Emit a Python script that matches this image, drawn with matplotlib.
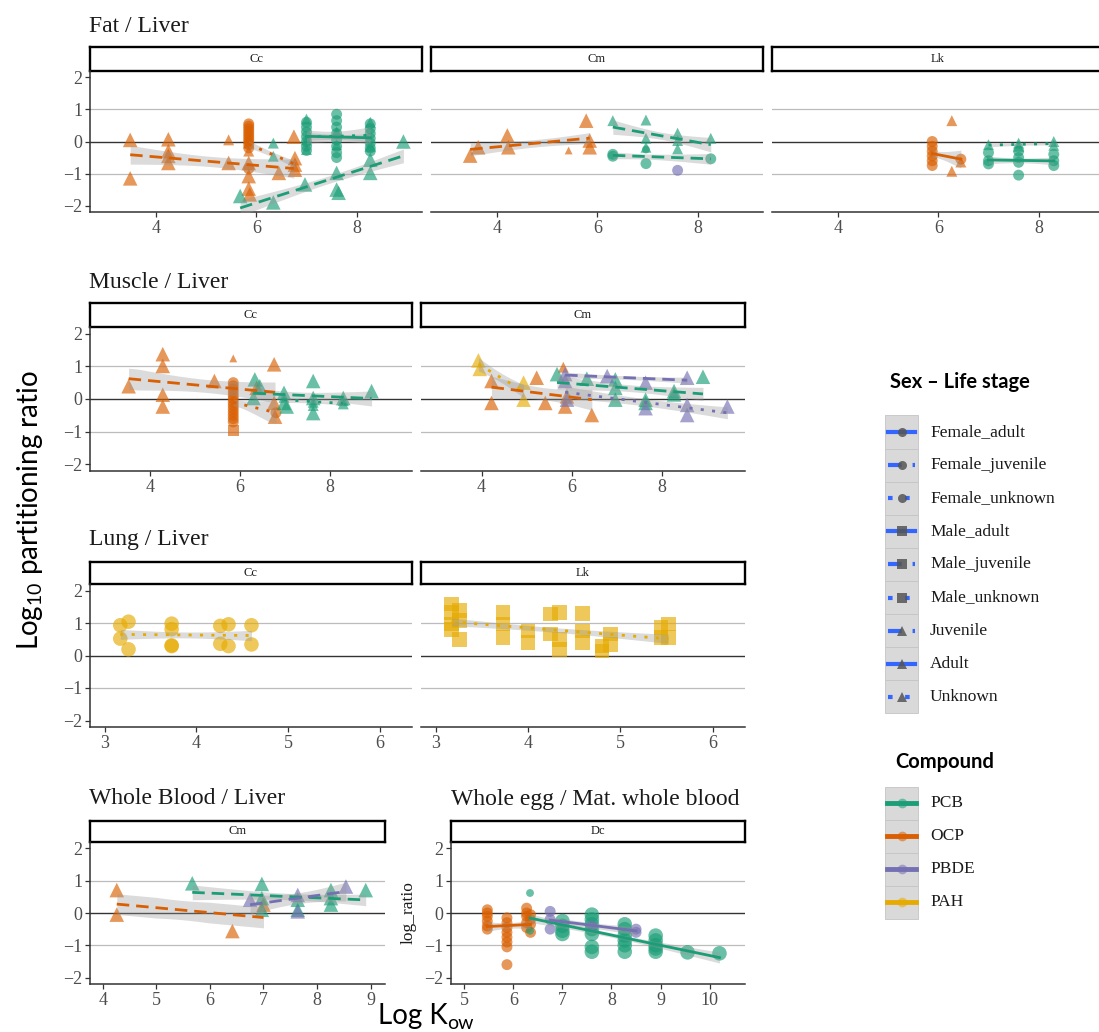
import numpy as np
import matplotlib
matplotlib.use('Agg')
import matplotlib.pyplot as plt
from matplotlib.patches import Rectangle
from matplotlib.lines import Line2D

W, H = 1099, 1032
plt.rcParams['font.family'] = ['Liberation Serif', 'DejaVu Serif']
plt.rcParams['mathtext.fontset'] = 'custom'
plt.rcParams['mathtext.rm'] = 'Lato'
plt.rcParams['mathtext.it'] = 'Lato:italic'
plt.rcParams['mathtext.bf'] = 'Lato:bold'

# ---------------- data ----------------
COMPOUNDS = ['PCB', 'OCP', 'PBDE', 'PAH']
COMP_COLORS = ['#1b9e77', '#d95f02', '#7570b3', '#e6ab02']
STAGE_CODES = ['Fa', 'Fj', 'Fu', 'Ma', 'Mj', 'Mu', 'J', 'A', 'U']
STAGE_LABELS = ['Female_adult', 'Female_juvenile', 'Female_unknown', 'Male_adult',
                'Male_juvenile', 'Male_unknown', 'Juvenile', 'Adult', 'Unknown']

# (compound, sex-life stage code, log Kow, log ratio, size level)
FAT_CC = [
    ('OCP', 'J', 3.49, 0.05, 3), ('OCP', 'J', 3.49, -1.15, 3), ('OCP', 'J', 4.25, 0.07, 3),
    ('OCP', 'J', 4.25, -0.30, 3), ('OCP', 'J', 4.25, -0.45, 3), ('OCP', 'J', 4.25, -0.67, 3),
    ('OCP', 'J', 5.45, 0.05, 2), ('OCP', 'J', 5.45, -0.67, 3), ('OCP', 'J', 5.85, -0.67, 3),
    ('OCP', 'J', 5.85, -1.08, 3), ('OCP', 'J', 5.85, -1.47, 3), ('OCP', 'J', 5.87, -1.65, 3),
    ('OCP', 'J', 6.45, -0.98, 3), ('OCP', 'J', 6.75, 0.15, 3),
    ('OCP', 'U', 5.85, -0.05, 2), ('OCP', 'U', 5.85, -0.30, 2), ('OCP', 'U', 5.85, 0.10, 2),
    ('OCP', 'U', 6.77, -0.52, 3), ('OCP', 'U', 6.77, -0.72, 3), ('OCP', 'U', 6.77, -0.88, 3),
    ('OCP', 'Fu', 5.85, 0.55, 2), ('OCP', 'Fu', 5.85, 0.48, 2), ('OCP', 'Fu', 5.85, 0.40, 2),
    ('OCP', 'Fu', 5.85, 0.32, 2), ('OCP', 'Fu', 5.85, 0.24, 2), ('OCP', 'Fu', 5.85, 0.16, 2),
    ('OCP', 'Fu', 5.85, 0.08, 2), ('OCP', 'Fu', 5.85, 0.00, 2), ('OCP', 'Fu', 5.85, -0.10, 2),
    ('OCP', 'Fu', 5.85, -0.20, 2), ('OCP', 'Fu', 5.85, -0.85, 2),
    ('PCB', 'J', 5.68, -1.70, 3), ('PCB', 'J', 6.34, -1.90, 3), ('PCB', 'J', 6.97, -1.34, 3),
    ('PCB', 'J', 7.60, -0.98, 3), ('PCB', 'J', 7.60, -1.50, 3), ('PCB', 'J', 7.64, -1.60, 3),
    ('PCB', 'J', 8.27, -0.57, 3), ('PCB', 'J', 8.27, -0.98, 3), ('PCB', 'J', 8.93, 0.00, 3),
    ('PCB', 'A', 6.34, -0.05, 2), ('PCB', 'A', 6.34, -0.46, 2),
    ('PCB', 'Fa', 7.00, 0.60, 2), ('PCB', 'Fa', 7.00, 0.45, 2), ('PCB', 'Fa', 7.00, 0.30, 2),
    ('PCB', 'Fa', 7.00, 0.15, 2), ('PCB', 'Fa', 7.00, 0.00, 2), ('PCB', 'Fa', 7.00, -0.15, 2),
    ('PCB', 'Fa', 7.00, -0.28, 2),
    ('PCB', 'Fa', 7.60, 0.85, 2), ('PCB', 'Fa', 7.60, 0.65, 2), ('PCB', 'Fa', 7.60, 0.45, 2),
    ('PCB', 'Fa', 7.60, 0.25, 2), ('PCB', 'Fa', 7.60, 0.05, 2), ('PCB', 'Fa', 7.60, -0.15, 2),
    ('PCB', 'Fa', 7.60, -0.35, 2), ('PCB', 'Fa', 7.60, -0.50, 2),
    ('PCB', 'Fa', 8.27, 0.55, 2), ('PCB', 'Fa', 8.27, 0.40, 2), ('PCB', 'Fa', 8.27, 0.25, 2),
    ('PCB', 'Fa', 8.27, 0.10, 2), ('PCB', 'Fa', 8.27, -0.05, 2), ('PCB', 'Fa', 8.27, -0.20, 2),
    ('PCB', 'Fa', 8.27, -0.30, 2),
    ('PCB', 'U', 7.00, 0.70, 2), ('PCB', 'U', 7.00, 0.05, 2), ('PCB', 'U', 7.00, -0.25, 2),
    ('PCB', 'U', 7.60, 0.30, 2), ('PCB', 'U', 7.60, -0.10, 2),
    ('PCB', 'U', 8.27, 0.60, 2), ('PCB', 'U', 8.27, -0.15, 2),
]

FAT_CM = [
    ('OCP', 'J', 3.47, -0.44, 3), ('OCP', 'J', 3.63, -0.18, 3), ('OCP', 'J', 4.21, 0.19, 3),
    ('OCP', 'J', 4.23, -0.18, 3), ('OCP', 'J', 5.43, -0.28, 1), ('OCP', 'J', 5.78, 0.65, 3),
    ('OCP', 'J', 5.85, 0.03, 3), ('OCP', 'J', 5.85, -0.18, 3),
    ('PCB', 'J', 6.31, 0.65, 2), ('PCB', 'J', 6.97, 0.67, 2), ('PCB', 'J', 6.97, 0.10, 2),
    ('PCB', 'J', 6.97, -0.18, 2), ('PCB', 'J', 7.60, 0.26, 2), ('PCB', 'J', 7.60, 0.03, 2),
    ('PCB', 'J', 7.60, -0.23, 2), ('PCB', 'J', 8.26, 0.10, 2),
    ('PCB', 'Fj', 6.31, -0.40, 2), ('PCB', 'Fj', 6.31, -0.46, 2), ('PCB', 'Fj', 6.97, -0.69, 2),
    ('PCB', 'Fj', 6.97, -0.25, 1), ('PCB', 'Fj', 8.26, -0.54, 2),
    ('PBDE', 'Fj', 7.60, -0.90, 2),
]

FAT_LK = [
    ('OCP', 'Fa', 5.88, 0.00, 2), ('OCP', 'Fa', 5.88, -0.15, 2), ('OCP', 'Fa', 5.88, -0.30, 2),
    ('OCP', 'Fa', 5.88, -0.45, 2), ('OCP', 'Fa', 5.88, -0.60, 2), ('OCP', 'Fa', 5.88, -0.75, 2),
    ('OCP', 'Fa', 6.45, -0.55, 2),
    ('OCP', 'A', 6.27, 0.65, 2), ('OCP', 'A', 6.27, -0.93, 2), ('OCP', 'J', 6.45, -0.64, 2),
    ('PCB', 'Fa', 7.00, -0.35, 2), ('PCB', 'Fa', 7.00, -0.60, 2), ('PCB', 'Fa', 7.00, -0.70, 2),
    ('PCB', 'Fa', 7.60, -0.30, 2), ('PCB', 'Fa', 7.60, -0.50, 2), ('PCB', 'Fa', 7.60, -0.65, 2),
    ('PCB', 'Fa', 7.60, -1.05, 2),
    ('PCB', 'Fa', 8.30, -0.40, 2), ('PCB', 'Fa', 8.30, -0.60, 2), ('PCB', 'Fa', 8.30, -0.75, 2),
    ('PCB', 'U', 7.00, -0.10, 2), ('PCB', 'U', 7.60, -0.05, 2), ('PCB', 'U', 7.60, -0.15, 2),
    ('PCB', 'U', 8.30, 0.00, 2), ('PCB', 'U', 8.30, -0.12, 2),
]

MUS_CC = [
    ('OCP', 'J', 3.52, 0.39, 3), ('OCP', 'J', 4.28, 1.37, 3), ('OCP', 'J', 4.28, 1.01, 3),
    ('OCP', 'J', 4.28, 0.13, 3), ('OCP', 'J', 4.28, -0.23, 3), ('OCP', 'J', 5.43, 0.55, 3),
    ('OCP', 'J', 6.37, 0.34, 3), ('OCP', 'J', 6.76, 1.06, 3), ('OCP', 'J', 6.76, -0.12, 3),
    ('OCP', 'J', 6.78, -0.54, 3),
    ('OCP', 'A', 5.85, 1.24, 1),
    ('OCP', 'Fu', 5.85, 0.50, 2), ('OCP', 'Fu', 5.85, 0.40, 2), ('OCP', 'Fu', 5.85, 0.30, 2),
    ('OCP', 'Fu', 5.85, 0.20, 2), ('OCP', 'Fu', 5.85, 0.10, 2), ('OCP', 'Fu', 5.85, 0.00, 2),
    ('OCP', 'Fu', 5.85, -0.10, 2), ('OCP', 'Fu', 5.85, -0.20, 2), ('OCP', 'Fu', 5.85, -0.30, 2),
    ('OCP', 'Fu', 5.85, -0.40, 2), ('OCP', 'Fu', 5.85, -0.50, 2), ('OCP', 'Fu', 5.85, -0.60, 2),
    ('OCP', 'Fu', 5.85, -0.70, 2), ('OCP', 'Fu', 6.80, -0.42, 2),
    ('OCP', 'Mu', 5.85, -0.95, 2),
    ('PCB', 'J', 6.33, 0.60, 3), ('PCB', 'J', 6.30, 0.03, 3), ('PCB', 'J', 6.44, 0.39, 3),
    ('PCB', 'J', 6.98, 0.19, 3), ('PCB', 'J', 6.98, -0.12, 3), ('PCB', 'J', 7.04, -0.23, 3),
    ('PCB', 'J', 7.63, 0.55, 3), ('PCB', 'J', 7.63, 0.03, 3), ('PCB', 'J', 7.63, -0.43, 3),
    ('PCB', 'J', 8.30, 0.03, 3), ('PCB', 'J', 8.93, 0.24, 3),
    ('PCB', 'U', 6.98, 0.05, 2), ('PCB', 'U', 7.63, -0.10, 2), ('PCB', 'U', 7.63, -0.20, 2),
    ('PCB', 'U', 8.30, -0.15, 2), ('PCB', 'U', 8.30, -0.05, 2),
]

MUS_CM = [
    ('PAH', 'U', 3.93, 1.18, 3), ('PAH', 'U', 3.96, 0.92, 3), ('PAH', 'U', 4.93, 0.50, 3),
    ('PAH', 'U', 4.93, -0.02, 3),
    ('OCP', 'J', 4.22, 0.55, 3), ('OCP', 'J', 4.22, -0.12, 3), ('OCP', 'J', 5.22, 0.65, 3),
    ('OCP', 'J', 5.41, -0.12, 3), ('OCP', 'J', 5.81, 0.97, 2), ('OCP', 'J', 5.85, -0.23, 3),
    ('OCP', 'J', 5.89, 0.08, 3), ('OCP', 'J', 6.44, -0.49, 3),
    ('PCB', 'J', 5.67, 0.76, 3), ('PCB', 'J', 6.33, 0.62, 3), ('PCB', 'J', 6.96, 0.60, 3),
    ('PCB', 'J', 6.96, 0.34, 3), ('PCB', 'J', 6.96, -0.02, 3), ('PCB', 'J', 7.63, -0.02, 3),
    ('PCB', 'J', 7.63, -0.12, 3), ('PCB', 'J', 8.26, 0.24, 3), ('PCB', 'J', 8.26, 0.14, 3),
    ('PCB', 'J', 8.90, 0.68, 3),
    ('PBDE', 'J', 5.85, 0.76, 3), ('PBDE', 'J', 6.78, 0.70, 3), ('PBDE', 'J', 7.63, 0.50, 3),
    ('PBDE', 'J', 8.55, 0.65, 3),
    ('PBDE', 'U', 5.85, 0.55, 3), ('PBDE', 'U', 5.89, -0.02, 3), ('PBDE', 'U', 7.63, -0.28, 3),
    ('PBDE', 'U', 8.55, -0.18, 3), ('PBDE', 'U', 8.55, -0.49, 3), ('PBDE', 'U', 9.44, -0.23, 3),
]

LUNG_CC = [
    ('PAH', 'Fu', 3.17, 0.93, 3), ('PAH', 'Fu', 3.26, 1.04, 3), ('PAH', 'Fu', 3.17, 0.52, 3),
    ('PAH', 'Fu', 3.26, 0.19, 3), ('PAH', 'Fu', 3.73, 0.98, 3), ('PAH', 'Fu', 3.73, 0.81, 3),
    ('PAH', 'Fu', 3.73, 0.29, 3), ('PAH', 'Fu', 3.73, 0.31, 3), ('PAH', 'Fu', 4.26, 0.91, 3),
    ('PAH', 'Fu', 4.35, 0.96, 3), ('PAH', 'Fu', 4.26, 0.36, 3), ('PAH', 'Fu', 4.35, 0.29, 3),
    ('PAH', 'Fu', 4.60, 0.93, 3), ('PAH', 'Fu', 4.60, 0.34, 3),
]

LUNG_LK = [
    ('PAH', 'Mu', 3.17, 1.59, 3), ('PAH', 'Mu', 3.17, 1.33, 3), ('PAH', 'Mu', 3.17, 0.97, 3),
    ('PAH', 'Mu', 3.17, 0.80, 3), ('PAH', 'Mu', 3.26, 1.38, 3), ('PAH', 'Mu', 3.26, 1.07, 3),
    ('PAH', 'Mu', 3.26, 0.50, 3), ('PAH', 'Mu', 3.73, 1.33, 3), ('PAH', 'Mu', 3.73, 0.97, 3),
    ('PAH', 'Mu', 3.73, 0.55, 3), ('PAH', 'Mu', 4.00, 0.76, 3), ('PAH', 'Mu', 4.00, 0.40, 3),
    ('PAH', 'Mu', 4.24, 1.28, 3), ('PAH', 'Mu', 4.24, 0.66, 3), ('PAH', 'Mu', 4.34, 1.33, 3),
    ('PAH', 'Mu', 4.34, 0.50, 3), ('PAH', 'Mu', 4.34, 0.19, 3), ('PAH', 'Mu', 4.59, 1.30, 3),
    ('PAH', 'Mu', 4.59, 0.76, 3), ('PAH', 'Mu', 4.59, 0.40, 3), ('PAH', 'Mu', 4.80, 0.29, 3),
    ('PAH', 'Mu', 4.80, 0.14, 3), ('PAH', 'Mu', 4.89, 0.66, 3), ('PAH', 'Mu', 4.89, 0.34, 3),
    ('PAH', 'Mu', 5.44, 0.86, 3), ('PAH', 'Mu', 5.44, 0.55, 3), ('PAH', 'Mu', 5.52, 0.97, 3),
    ('PAH', 'Mu', 5.52, 0.55, 3),
]

WB_CM = [
    ('OCP', 'J', 4.26, 0.71, 3), ('OCP', 'J', 4.26, -0.05, 3), ('OCP', 'J', 6.42, -0.56, 3),
    ('OCP', 'J', 7.00, 0.26, 3),
    ('PCB', 'J', 5.67, 0.92, 3), ('PCB', 'J', 6.97, 0.90, 3), ('PCB', 'J', 6.97, 0.46, 3),
    ('PCB', 'J', 6.97, 0.10, 3), ('PCB', 'J', 7.64, 0.41, 3), ('PCB', 'J', 7.64, 0.10, 3),
    ('PCB', 'J', 8.26, 0.71, 3), ('PCB', 'J', 8.26, 0.46, 3), ('PCB', 'J', 8.26, 0.26, 3),
    ('PCB', 'J', 8.91, 0.71, 3),
    ('PBDE', 'J', 6.75, 0.41, 3), ('PBDE', 'J', 7.64, 0.56, 3), ('PBDE', 'J', 7.64, 0.05, 3),
    ('PBDE', 'J', 8.54, 0.82, 3),
]

EGG_DC = [
    ('OCP', 'Fa', 5.47, 0.10, 2), ('OCP', 'Fa', 5.47, 0.00, 2), ('OCP', 'Fa', 5.47, -0.10, 2),
    ('OCP', 'Fa', 5.47, -0.25, 2), ('OCP', 'Fa', 5.47, -0.40, 2), ('OCP', 'Fa', 5.47, -0.50, 2),
    ('OCP', 'Fa', 5.87, -0.15, 2), ('OCP', 'Fa', 5.87, -0.30, 2), ('OCP', 'Fa', 5.87, -0.45, 2),
    ('OCP', 'Fa', 5.87, -0.60, 2), ('OCP', 'Fa', 5.87, -0.75, 2), ('OCP', 'Fa', 5.87, -0.90, 2),
    ('OCP', 'Fa', 5.87, -1.05, 2), ('OCP', 'Fa', 5.87, -1.60, 2),
    ('OCP', 'Fa', 6.27, 0.15, 2), ('OCP', 'Fa', 6.27, 0.00, 2), ('OCP', 'Fa', 6.27, -0.10, 2),
    ('OCP', 'Fa', 6.27, -0.30, 2), ('OCP', 'Fa', 6.27, -0.45, 2),
    ('OCP', 'Fa', 6.35, -0.05, 2), ('OCP', 'Fa', 6.35, -0.20, 2), ('OCP', 'Fa', 6.35, -0.35, 2),
    ('OCP', 'Fa', 6.35, -0.60, 2),
    ('PCB', 'Fa', 6.34, 0.62, 1), ('PCB', 'Fa', 6.34, -0.55, 1),
    ('PCB', 'Fa', 7.00, -0.25, 3), ('PCB', 'Fa', 7.00, -0.40, 3), ('PCB', 'Fa', 7.00, -0.55, 3),
    ('PCB', 'Fa', 7.00, -0.65, 3),
    ('PCB', 'Fa', 7.60, -0.05, 3), ('PCB', 'Fa', 7.60, -0.20, 3), ('PCB', 'Fa', 7.60, -0.35, 3),
    ('PCB', 'Fa', 7.60, -0.50, 3), ('PCB', 'Fa', 7.60, -0.65, 3), ('PCB', 'Fa', 7.60, -1.05, 3),
    ('PCB', 'Fa', 7.60, -1.20, 3),
    ('PCB', 'Fa', 8.27, -0.35, 3), ('PCB', 'Fa', 8.27, -0.50, 3), ('PCB', 'Fa', 8.27, -0.70, 3),
    ('PCB', 'Fa', 8.27, -0.85, 3), ('PCB', 'Fa', 8.27, -1.00, 3), ('PCB', 'Fa', 8.27, -1.20, 3),
    ('PCB', 'Fa', 8.90, -0.70, 3), ('PCB', 'Fa', 8.90, -0.85, 3), ('PCB', 'Fa', 8.90, -1.00, 3),
    ('PCB', 'Fa', 8.90, -1.10, 3), ('PCB', 'Fa', 8.90, -1.20, 3),
    ('PCB', 'Fa', 9.55, -1.22, 3), ('PCB', 'Fa', 10.20, -1.25, 3),
    ('PBDE', 'Fa', 6.75, 0.05, 2), ('PBDE', 'Fa', 6.75, -0.20, 2), ('PBDE', 'Fa', 6.75, -0.50, 2),
    ('PBDE', 'Fa', 7.60, -0.40, 2), ('PBDE', 'Fa', 8.50, -0.50, 2), ('PBDE', 'Fa', 8.50, -0.60, 2),
]

Y_TICKS = [-2, -1, 0, 1, 2]

# ---------------- styling helpers ----------------
COLOR = dict(zip(COMPOUNDS, COMP_COLORS))
SIZE = {1: 32, 2: 62, 3: 110}


def marker_of(code):
    if code.startswith('F'):
        return 'o'
    if code.startswith('M'):
        return 's'
    return '^'


def dash_of(code):
    st = code[-1].lower()
    if st == 'a':
        return '-'
    if st == 'j':
        return (0, (4.5, 2.5))
    return (0, (1.1, 3.0))


fig = plt.figure(figsize=(W / 100, H / 100), dpi=100)
fig.patch.set_facecolor('white')


def box(x0, y0, x1, y1):
    return [x0 / W, 1 - y1 / H, (x1 - x0) / W, (y1 - y0) / H]


def strip(x0, y0, x1, y1, label):
    s = fig.add_axes(box(x0, y0, x1, y1))
    s.set_xticks([]); s.set_yticks([])
    for sp in s.spines.values():
        sp.set_linewidth(1.7); sp.set_color('black')
    s.text(0.5, 0.5, label, ha='center', va='center', fontsize=9, color='#1a1a1a',
           transform=s.transAxes)


def draw_data(ax, rows):
    groups = {}
    for comp, code, x, y, sz in rows:
        groups.setdefault((comp, code), []).append((x, y, sz))
    for (comp, code), pts in groups.items():
        xs = np.array([p[0] for p in pts]); ys = np.array([p[1] for p in pts])
        ss = [SIZE[p[2]] for p in pts]
        ax.scatter(xs, ys, s=ss, marker=marker_of(code), color=COLOR[comp], alpha=0.65,
                   edgecolors='none', zorder=3)
    for (comp, code), pts in groups.items():
        xs = np.array([p[0] for p in pts]); ys = np.array([p[1] for p in pts])
        if len(np.unique(xs)) < 2 or len(xs) < 3:
            continue
        b, a = np.polyfit(xs, ys, 1)
        n = len(xs)
        res = ys - (a + b * xs)
        s = np.sqrt(np.sum(res ** 2) / (n - 2))
        sxx = np.sum((xs - xs.mean()) ** 2)
        xg = np.linspace(xs.min(), xs.max(), 60)
        yg = a + b * xg
        se = s * np.sqrt(1 / n + (xg - xs.mean()) ** 2 / sxx)
        hw = np.minimum(se, 0.32)
        ax.fill_between(xg, yg - hw, yg + hw, color='#999999', alpha=0.35,
                        lw=0, zorder=4)
        ax.plot(xg, yg, color=COLOR[comp], lw=2.0, linestyle=dash_of(code), zorder=5)


def panel(x0, y0, x1, y1, xlim, xticks, label, rows, first=True, sh=24):
    strip(x0, y0 - sh, x1, y0, label)
    ax = fig.add_axes(box(x0, y0, x1, y1))
    ax.set_facecolor('none')
    ax.set_xlim(*xlim); ax.set_ylim(-2.2, 2.2)
    ax.spines['top'].set_visible(False); ax.spines['right'].set_visible(False)
    ax.spines['bottom'].set_color('#333333'); ax.spines['bottom'].set_linewidth(1.1)
    ax.spines['left'].set_color('#333333'); ax.spines['left'].set_linewidth(1.1)
    ax.axhline(1, color='#bcbcbc', lw=0.9, zorder=1)
    ax.axhline(-1, color='#bcbcbc', lw=0.9, zorder=1)
    ax.axhline(0, color='#333333', lw=1.0, zorder=1)
    ax.set_xticks(xticks)
    ax.set_xticklabels([str(v) for v in xticks])
    ax.set_yticks(Y_TICKS)
    ax.tick_params(axis='both', labelsize=13, labelcolor='#4d4d4d', color='#333333',
                   length=3.5, width=0.9, pad=2)
    if not first:
        ax.spines['left'].set_visible(False)
        ax.tick_params(axis='y', length=0, labelleft=False)
    draw_data(ax, rows)
    return ax


# Row 1: Fat / Liver
X1 = (2.69, 9.30)
panel(90, 71, 422, 212, X1, [4, 6, 8], 'Cc', FAT_CC, True)
panel(431, 71, 763, 212, X1, [4, 6, 8], 'Cm', FAT_CM, False)
panel(772, 71, 1104, 212, X1, [4, 6, 8], 'Lk', FAT_LK, False)

# Row 2: Muscle / Liver
X2 = (2.66, 9.83)
panel(90, 327, 412, 471, X2, [4, 6, 8], 'Cc', MUS_CC, True)
panel(421, 327, 745, 471, X2, [4, 6, 8], 'Cm', MUS_CM, False)

# Row 3: Lung / Liver
X3 = (2.84, 6.35)
panel(90, 584, 412, 727, X3, [3, 4, 5, 6], 'Cc', LUNG_CC, True, 22)
panel(421, 584, 745, 727, X3, [3, 4, 5, 6], 'Lk', LUNG_LK, False, 22)

# Row 4
panel(90, 842, 385, 984, (3.76, 9.27), [4, 5, 6, 7, 8, 9], 'Cm', WB_CM, True, 21)
panel(451, 842, 745, 984, (4.73, 10.72), [5, 6, 7, 8, 9, 10], 'Dc', EGG_DC, True, 21)

# ---------------- overlay for titles and legends ----------------
ov = fig.add_axes([0, 0, 1, 1])
ov.set_xlim(0, W); ov.set_ylim(H, 0); ov.axis('off'); ov.set_facecolor('none')

TITLE_KW = dict(fontsize=17, color='#1a1a1a', ha='left', va='center')
ov.text(89, 27, 'Fat / Liver', **TITLE_KW)
ov.text(89, 283, 'Muscle / Liver', **TITLE_KW)
ov.text(89, 540, 'Lung / Liver', **TITLE_KW)
ov.text(89, 799, 'Whole Blood / Liver', **TITLE_KW)
ov.text(451, 799, 'Whole egg / Mat. whole blood', **TITLE_KW)
ov.text(409, 913, 'log_ratio', rotation=90, fontsize=12.5, color='#1a1a1a',
        ha='center', va='center')

ov.text(30, 510, 'Log$_{\\mathrm{10}}$ partitioning ratio', rotation=90, ha='center',
        va='center', fontsize=20, family='Lato', color='black')
ov.text(378, 1024, 'Log K', ha='left', va='baseline', fontsize=20,
        family='Lato', color='black')
ov.text(447, 1029, 'ow', ha='left', va='baseline', fontsize=14,
        family='Lato', color='black')

# Sex - life stage legend
ov.text(890, 382, 'Sex – Life stage', ha='left', va='center', fontsize=14.5,
        family='Lato', fontweight='bold', color='black')
step = 33.1
for i, (code, lab) in enumerate(zip(STAGE_CODES, STAGE_LABELS)):
    cy = 432 + i * step
    ov.add_patch(Rectangle((885, cy - step / 2), 33, step, facecolor='#d9d9d9',
                           edgecolor='#c4c4c4', lw=0.6, zorder=2))
    ov.add_line(Line2D([888, 915], [cy, cy], color='#3366ff', lw=3.0,
                       linestyle=dash_of(code) if code[-1].lower() != 'j' else (0, (3.3, 2.6)),
                       zorder=3))
    ov.add_line(Line2D([901.5], [cy], marker=marker_of(code), markersize=6.5,
                       color='#555555', alpha=0.85, markeredgewidth=0, zorder=4))
    ov.text(930, cy, lab, ha='left', va='center', fontsize=12.5, color='#1a1a1a')

# Compound legend
ov.text(895, 762, 'Compound', ha='left', va='center', fontsize=14.5, family='Lato',
        fontweight='bold', color='black')
for i, (comp, col) in enumerate(zip(COMPOUNDS, COMP_COLORS)):
    cy = 803 + i * 33
    ov.add_patch(Rectangle((885, cy - 16.5), 33, 33, facecolor='#d9d9d9',
                           edgecolor='#c4c4c4', lw=0.6, zorder=2))
    ov.add_line(Line2D([887, 916], [cy, cy], color=col, lw=3.5, zorder=3))
    ov.add_line(Line2D([901.5], [cy], marker='o', markersize=7, color=col, alpha=0.55,
                       markeredgewidth=0, zorder=4))
    ov.text(930, cy, comp, ha='left', va='center', fontsize=12.5, color='#1a1a1a')

fig.savefig('out.png', dpi=100)
